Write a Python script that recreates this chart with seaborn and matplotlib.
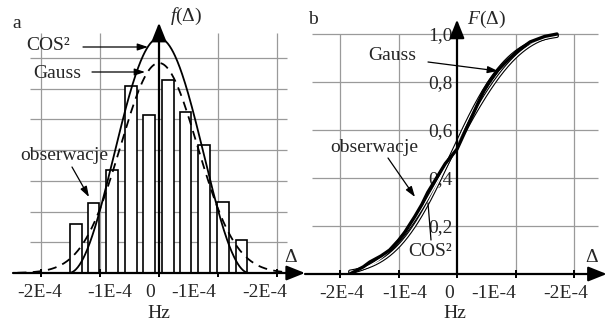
import numpy as np
import matplotlib
matplotlib.use("Agg")
import matplotlib.pyplot as plt
import seaborn as sns
from math import erf

# ---------------- data (x in units of 1E-4 Hz) ----------------
bar_centers = [-1.41, -1.11, -0.79, -0.47, -0.164, 0.153, 0.45, 0.76, 1.087, 1.40]
bar_heights = [1.61, 2.28, 3.37, 6.08, 5.13, 6.30, 5.25, 4.16, 2.30, 1.07]
bar_width = 0.2

cos2_amp, cos2_half = 7.65, 1.53        # panel a COS^2 density
gauss_amp, gauss_sigma = 6.84, 0.65     # panel a Gauss density

obs_x = [-1.83, -1.6, -1.49, -1.3, -1.15, -1.0, -0.89, -0.72, -0.6, -0.5, -0.3,
         -0.2, -0.1, 0.0, 0.15, 0.3, 0.45, 0.55, 0.7, 0.82, 1.04, 1.25, 1.5, 1.71]
obs_F = [0.0, 0.03, 0.05, 0.075, 0.10, 0.14, 0.175, 0.24, 0.29, 0.34, 0.42,
         0.46, 0.49, 0.52, 0.60, 0.68, 0.76, 0.80, 0.85, 0.88, 0.93, 0.967, 0.99, 1.0]
cdf_mu, cdf_sigma = -0.09, 0.76         # panel b Gauss CDF
cdf_cos_mu, cdf_cos_half = -0.08, 2.2   # panel b COS^2 CDF

xtick_pos_a = [-2.02, -0.83, -0.15, 0.58, 1.8]
xtick_pos_b = [-1.97, -0.89, -0.14, 0.62, 1.85]
xtick_labels = ["-2E-4", "-1E-4", "0", "-1E-4", "-2E-4"]
ytick_vals_b = [0.2, 0.4, 0.6, 0.8, 1.0]
ytick_labels_b = ["0,2", "0,4", "0,6", "0,8", "1,0"]

# ---------------- style ----------------
sns.set_style("white")
plt.rcParams["font.family"] = ["Liberation Serif", "DejaVu Serif"]
plt.rcParams["mathtext.fontset"] = "custom"
plt.rcParams["mathtext.rm"] = "Liberation Serif"
plt.rcParams["mathtext.it"] = "Liberation Serif:italic"
FS = 14
GRID = "#9a9a9a"

W, H = 610, 324
fig = plt.figure(figsize=(6.1, 3.24), dpi=100)
fig.patch.set_facecolor("white")


def P(x, y):
    return (x / W, 1 - y / H)


ax_a = fig.add_axes([13 / W, (H - 273) / H, 292 / W, 261 / H])
ax_b = fig.add_axes([305 / W, (H - 274) / H, 305 / W, 262 / H])

for ax in (ax_a, ax_b):
    ax.set_facecolor("none")
    for s in ax.spines.values():
        s.set_visible(False)

# ---------------- panel a ----------------
ax = ax_a
ax.set_xlim(-2.475, 2.475)
ax.set_ylim(0, 8.5)
ax.hlines(range(1, 8), -2.19, 2.17, color=GRID, lw=0.9, zorder=0)
ax.vlines([-2, -1, 1, 2], 0, 7.8, color=GRID, lw=0.9, zorder=0)
ax.bar(bar_centers, bar_heights, width=bar_width, facecolor="white",
       edgecolor="black", linewidth=1.2, zorder=2)

xa = np.linspace(-cos2_half, cos2_half, 300)
ya = cos2_amp * np.cos(np.pi * xa / (2 * cos2_half)) ** 2
xa = np.concatenate([[-1.75], xa, [1.75]])
ya = np.concatenate([[0], ya, [0]])
sns.lineplot(x=xa, y=ya, ax=ax, color="black", lw=1.3, sort=False, zorder=3)
xg = np.linspace(-2.4, 2.3, 400)
yg = gauss_amp * np.exp(-xg ** 2 / (2 * gauss_sigma ** 2))
sns.lineplot(x=xg, y=yg, ax=ax, color="black", lw=1.3, linestyle=(0, (5, 3.5)),
             sort=False, zorder=3)

ax.set_xticks(xtick_pos_a, xtick_labels)
ax.set_xticks([-2, -1, 0, 1, 2], minor=True)
ax.set_yticks([])
ax.tick_params(axis="x", which="major", length=0, pad=8, labelsize=FS)
ax.tick_params(axis="x", which="minor", length=6, width=1.4, direction="inout",
               color="black", bottom=True)
ax.set_xlabel("")
ax.set_ylabel("")

ar_big = dict(arrowstyle="-|>,head_length=0.8,head_width=0.32", lw=1.6,
              color="black", shrinkA=0, shrinkB=0, mutation_scale=14)
ax.annotate("", xy=(2.475, 0), xytext=(-2.475, 0), arrowprops=ar_big,
            annotation_clip=False, zorder=5)
ax.annotate("", xy=(0, 8.15), xytext=(0, 0), arrowprops=ar_big,
            annotation_clip=False, zorder=5)

# ---------------- panel b ----------------
ax = ax_b
ax.set_xlim((305 - 457) / 58.5, (610 - 457) / 58.5)
ax.set_ylim(0, 262 / 240)
ax.hlines(ytick_vals_b, -2.48, 2.41, color=GRID, lw=0.9, zorder=0)
ax.vlines([-2, -1, 1, 2], 0, 1.0, color=GRID, lw=0.9, zorder=0)

xc = np.linspace(obs_x[0], obs_x[-1], 300)
Fg = 0.5 * (1 + np.array([erf((v - cdf_mu) / (cdf_sigma * np.sqrt(2))) for v in xc]))
u = xc - cdf_cos_mu
Fc = 0.5 + u / (2 * cdf_cos_half) + np.sin(np.pi * u / cdf_cos_half) / (2 * np.pi)
Fc = np.clip(Fc, 0, 1)
for Fm in (Fg, Fc):
    sns.lineplot(x=xc, y=Fm, ax=ax, color="black", lw=2.6, sort=False, zorder=2)
    sns.lineplot(x=xc, y=Fm, ax=ax, color="white", lw=1.0, sort=False, zorder=2.1)
sns.lineplot(x=obs_x, y=obs_F, ax=ax, color="black", lw=2.4, sort=False, zorder=3)

ax.spines["left"].set_position(("data", 0))
ax.set_xticks(xtick_pos_b, xtick_labels)
ax.set_xticks([-2, -1, 0, 1, 2], minor=True)
ax.set_yticks(ytick_vals_b, ytick_labels_b)
ax.tick_params(axis="x", which="major", length=0, pad=8, labelsize=FS)
ax.tick_params(axis="x", which="minor", length=6, width=1.4, direction="inout",
               color="black", bottom=True)
ax.tick_params(axis="y", length=0, pad=3, labelsize=FS)
ax.set_xlabel("")
ax.set_ylabel("")
ax.annotate("", xy=(2.56, 0), xytext=(-2.598, 0), arrowprops=ar_big,
            annotation_clip=False, zorder=5)
ax.annotate("", xy=(0, 1.06), xytext=(0, 0), arrowprops=ar_big,
            annotation_clip=False, zorder=5)

# ---------------- texts & annotation arrows ----------------
def txt(x, y, s, **kw):
    fig.text(*P(x, y), s, ha="center", va="center", fontsize=FS, **kw)


def arrow(x0, y0, x1, y1, head=True):
    style = "-|>,head_length=0.45,head_width=0.15" if head else "-"
    fig.add_artist(matplotlib.patches.FancyArrowPatch(
        P(x0, y0), P(x1, y1), transform=fig.transFigure, arrowstyle=style,
        mutation_scale=14, lw=0.9, color="black", shrinkA=0, shrinkB=0, zorder=6))


txt(17, 24, "a")
txt(186, 16, r"$f$(Δ)")
txt(48, 46, "COS²")
arrow(83, 47, 148, 47)
txt(57, 74, "Gauss")
arrow(92, 72, 145, 72)
txt(64, 156, "obserwacje")
arrow(72, 167, 89, 197)
txt(291, 257, "Δ")
txt(159, 313, "Hz")

txt(313, 20, "b")
txt(486, 19, r"$F$(Δ)")
txt(392, 56, "Gauss")
arrow(428, 62, 498, 71)
txt(374, 147, "obserwacje")
arrow(388, 158, 415, 197)
txt(430, 251, "COS²")
arrow(431, 240, 428, 203, head=False)
txt(592, 258, "Δ")
txt(455, 313, "Hz")

fig.savefig("out.png", dpi=100, facecolor="white")
